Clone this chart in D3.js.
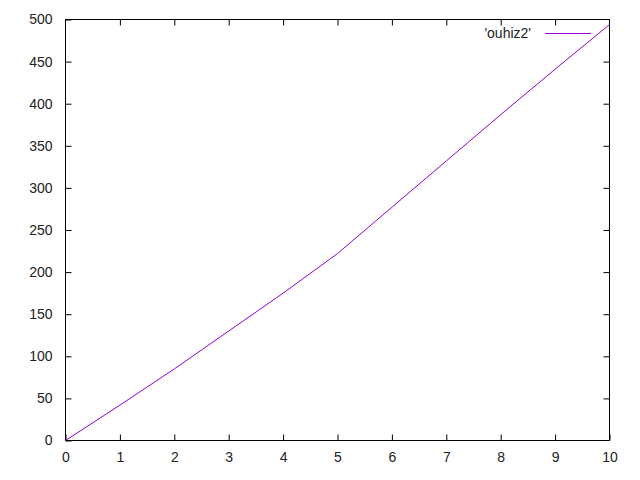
<!DOCTYPE html>
<html lang="en">
<head>
    <script src="https://d3js.org/d3.v7.min.js"></script>
    <style>
        body { margin: 0; background: #fff; }
        text { font-family: "Liberation Sans", Arial, sans-serif; font-size: 14px; fill: #222; }
    </style>
</head>
<body>
<script>
    var xs = [0, 1, 2, 3, 4, 5, 6, 7, 8, 9, 10];
    var ys = [0, 42, 85, 130, 175, 222, 277, 332, 387, 441, 494];
    var seriesName = "'ouhiz2'";
    var xTicks = [0, 1, 2, 3, 4, 5, 6, 7, 8, 9, 10];
    var yTicks = [0, 50, 100, 150, 200, 250, 300, 350, 400, 450, 500];

    var width = 640, height = 480;
    var plotL = 65.5, plotR = 609.5, plotT = 19.5, plotB = 440.5;

    var svg = d3.select("body")
        .append("svg")
        .attr("width", width)
        .attr("height", height);

    var x = d3.scaleLinear().domain([0, 10]).range([plotL, plotR]);
    var y = d3.scaleLinear().domain([0, 500]).range([plotB, plotT]);

    function style(g) {
        g.select(".domain").remove();
        g.selectAll(".tick line").attr("stroke", "#000");
        g.selectAll(".tick text").attr("font-size", null).attr("font-family", null);
    }

    // bottom + top ticks
    svg.append("g")
       .attr("transform", "translate(0," + plotB + ")")
       .call(d3.axisBottom(x).tickValues(xTicks).tickSize(-6).tickPadding(12).tickFormat(d3.format("d")))
       .call(style);
    svg.append("g")
       .attr("transform", "translate(0," + plotT + ")")
       .call(d3.axisTop(x).tickValues(xTicks.slice(1, -1)).tickSize(-6).tickFormat(""))
       .call(style);

    // left + right ticks
    svg.append("g")
       .attr("transform", "translate(" + plotL + ",0)")
       .call(d3.axisLeft(y).tickValues(yTicks).tickSize(-6).tickPadding(13).tickFormat(d3.format("d")))
       .call(style);
    svg.append("g")
       .attr("transform", "translate(" + plotR + ",0)")
       .call(d3.axisRight(y).tickValues(yTicks.slice(1, -1)).tickSize(-6).tickFormat(""))
       .call(style);

    svg.selectAll(".tick text").style("fill", "#222");

    // border
    svg.append("rect")
       .attr("x", plotL).attr("y", plotT)
       .attr("width", plotR - plotL).attr("height", plotB - plotT)
       .attr("fill", "none").attr("stroke", "#000").attr("stroke-width", 1);

    var line = d3.line()
        .x(function (d, i) { return x(xs[i]); })
        .y(function (d) { return y(d); });

    svg.append("path")
       .datum(ys)
       .attr("d", line)
       .attr("fill", "none")
       .attr("stroke", "#9400d3")
       .attr("stroke-width", 1);

    // legend
    svg.append("text")
       .attr("x", 531).attr("y", 38)
       .attr("text-anchor", "end")
       .text(seriesName);
    svg.append("line")
       .attr("x1", 545).attr("x2", 591)
       .attr("y1", 33.5).attr("y2", 33.5)
       .attr("stroke", "#9400d3").attr("stroke-width", 1);
</script>
</body>
</html>
